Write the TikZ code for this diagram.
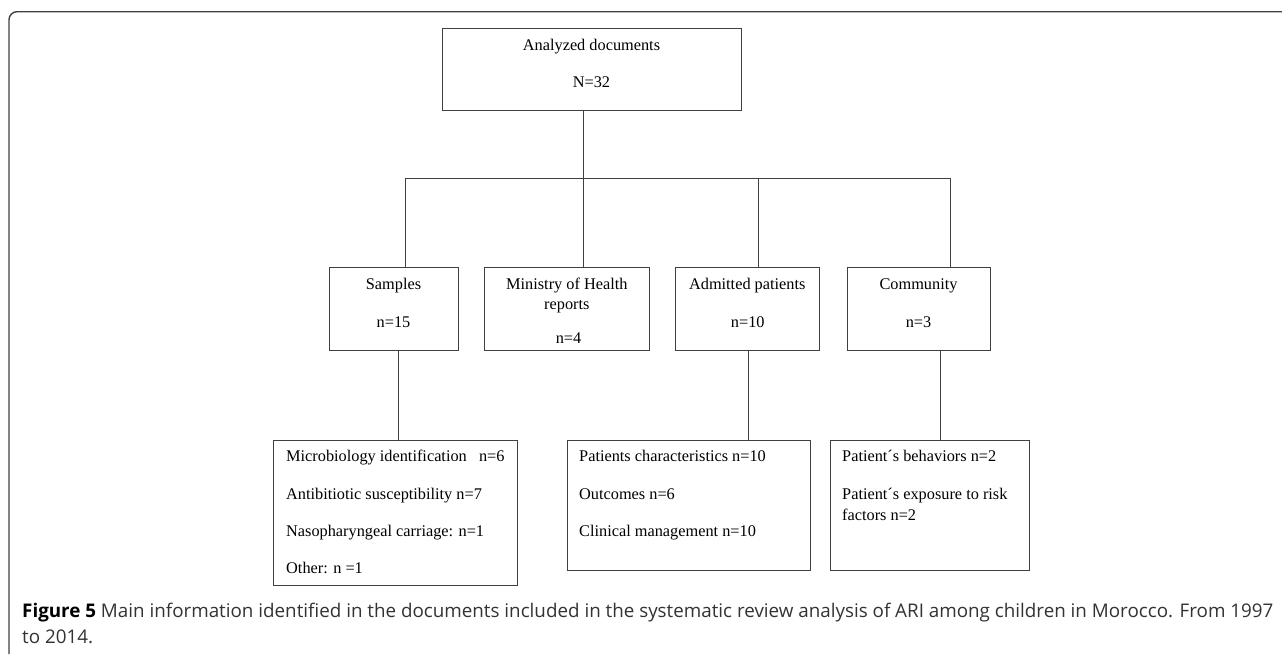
\documentclass[tikz,border=0pt]{standalone}
\usepackage{fontspec}
\setmainfont{Liberation Serif}
\newfontfamily\capfont{Open Sans}
\begin{document}
\begin{tikzpicture}[x=1pt,y=-1pt,
  box/.style={draw=black!75, line width=0.9pt, rectangle, inner sep=0pt},
  conn/.style={draw=black!75, line width=0.9pt},
  txt/.style={inner sep=0pt, font=\fontsize{16.3}{19.5}\selectfont},
  ctxt/.style={txt, anchor=base},
  ltxt/.style={txt, anchor=base west},
  captxt/.style={inner sep=0pt, anchor=base west, font=\capfont\fontsize{18.8}{26}\selectfont, text=black!80},
  framestyle/.style={draw=black!75, line width=1.4pt, rounded corners=8pt}]
\useasboundingbox (0,0) rectangle (1282,654);
\fill[white] (0,0) rectangle (1282,654);
\draw[framestyle] (9,654) -- (9,11.7) -- (1282,11.7);

% boxes
\node[box, minimum width=299pt, minimum height=82.7pt] (top) at (591.5,69.35) {};
\node[box, minimum width=129pt, minimum height=83pt] (samp) at (393.5,309.2) {};
\node[box, minimum width=164.3pt, minimum height=83pt] (mini) at (566.85,309.2) {};
\node[box, minimum width=143.5pt, minimum height=83pt] (adm) at (747.25,309.2) {};
\node[box, minimum width=143pt, minimum height=83pt] (comm) at (918.5,309.2) {};
\node[box, minimum width=244pt, minimum height=145pt] (sampd) at (395.5,512.5) {};
\node[box, minimum width=243.6pt, minimum height=130pt] (admd) at (688.8,505) {};
\node[box, minimum width=199pt, minimum height=130pt] (commd) at (929.5,505) {};

% texts
\node[ctxt] (t1) at (591.5,50) {Analyzed documents};
\node[ctxt] (t2) at (591.5,87.3) {N=32};
\node[ctxt] (s1) at (393.5,289) {Samples};
\node[ctxt] (s2) at (393.5,327.3) {n=15};
\node[ctxt] (m1) at (566.85,289) {Ministry of Health};
\node[ctxt] (m2) at (566.85,309.3) {reports};
\node[ctxt] (m3) at (568.5,343.3) {n=4};
\node[ctxt] (a1) at (747.25,289) {Admitted patients};
\node[ctxt] (a2) at (747.8,327.3) {n=10};
\node[ctxt] (c1) at (918.5,289) {Community};
\node[ctxt] (c2) at (918.5,327.3) {n=3};

\node[ltxt] (sd1) at (286,461.7) {Microbiology identification\ \ \ n=6};
\node[ltxt] (sd2) at (286,499) {Antibitiotic susceptibility n=7};
\node[ltxt] (sd3) at (286,536.7) {Nasopharyngeal carriage: n=1};
\node[ltxt] (sd4) at (286,573.7) {Other: n =1};
\node[ltxt] (ad1) at (579,461.7) {Patients characteristics n=10};
\node[ltxt] (ad2) at (579,499) {Outcomes n=6};
\node[ltxt] (ad3) at (579,536.7) {Clinical management n=10};
\node[ltxt] (cd1) at (842,461.7) {Patient´s behaviors n=2};
\node[ltxt] (cd2) at (842,499) {Patient´s exposure to risk};
\node[ltxt] (cd3) at (842,520.7) {factors n=2};

% connectors
\coordinate (b0) at (405,178);
\coordinate (b1) at (583,178);
\coordinate (b2) at (758,178);
\coordinate (b3) at (950,178);
\coordinate (d0) at (398,400);
\coordinate (d1) at (748,400);
\coordinate (d2) at (940,400);
\draw[conn] (top.south -| b1) -- (b1);
\draw[conn] (b0) -- (b3);
\draw[conn] (b0) -- (b0 |- samp.north);
\draw[conn] (b1) -- (b1 |- mini.north);
\draw[conn] (b2) -- (b2 |- adm.north);
\draw[conn] (b3) -- (b3 |- comm.north);
\draw[conn] (samp.south -| d0) -- (sampd.north -| d0);
\draw[conn] (adm.south -| d1) -- (admd.north -| d1);
\draw[conn] (comm.south -| d2) -- (commd.north -| d2);

% caption
\node[captxt] (cap1) at (22,617) {\textbf{\color{black}Figure 5} Main information identified in the documents included in the systematic review analysis of ARI among children in Morocco. From 1997};
\node[captxt] (cap2) at (22,643.5) {to 2014.};
\end{tikzpicture}
\end{document}
